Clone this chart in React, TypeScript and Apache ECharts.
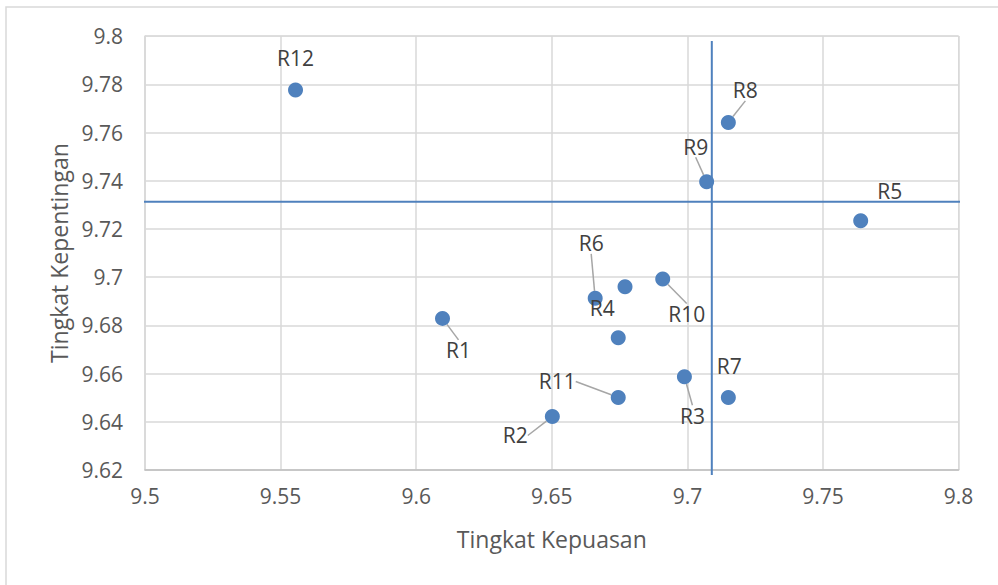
import React, { useEffect, useRef } from "react";
import * as echarts from "echarts";

// Data (Tingkat Kepuasan, Tingkat Kepentingan)
const pointNames = ["R1", "R2", "R3", "R4", "R5", "R6", "R7", "R8", "R9", "R10", "R11", "R12", ""];
const kepuasan = [9.6097, 9.6502, 9.6989, 9.6745, 9.7639, 9.666, 9.7151, 9.7151, 9.7071, 9.6909, 9.6745, 9.5555, 9.677];
const kepentingan = [9.6829, 9.6422, 9.6587, 9.6749, 9.7234, 9.6912, 9.6501, 9.7642, 9.7396, 9.6992, 9.6501, 9.7776, 9.696];

// Quadrant divider lines
const dividerX = 9.709;
const dividerY = 9.7313;
const dividerXSpan = [9.4976, 9.8007];
const dividerYSpan = [9.6179, 9.798];

// Axis ticks
const xTicks = { min: 9.5, max: 9.8, interval: 0.05 };
const yTicks = { min: 9.62, max: 9.8, interval: 0.02 };

// Label placement (pixel offsets from point centre) and leader visibility
const labelOffsets = [
  [16, 32], [-37, 19], [8, 39], [-16, -30], [29, -30], [-4, -55],
  [1, -31], [17, -32], [-11, -35], [24, 35], [-61, -16], [0, -32], [0, 0],
];
const showLeader = [true, true, true, false, false, true, false, true, true, true, true, false, false];

const FONT = "'Open Sans', 'Noto Sans', sans-serif";
const BLUE = "#4f81bd";

export default function App() {
  const ref = useRef<HTMLDivElement>(null);

  useEffect(() => {
    if (!ref.current) return;
    const chart = echarts.init(ref.current, undefined, { renderer: "svg" });

    const scatterData = kepuasan.map((x, i) => ({
      value: [x, kepentingan[i]],
      name: pointNames[i],
      label: { show: pointNames[i] !== "" },
      labelLine: { show: showLeader[i] },
    }));

    chart.setOption({
      animation: false,
      backgroundColor: "#ffffff",
      textStyle: { fontFamily: FONT },
      graphic: [
        {
          type: "rect",
          shape: { x: 6, y: 7, width: 1200, height: 800 },
          style: { fill: "none", stroke: "#d9d9d9", lineWidth: 1.5 },
          silent: true,
          z: -10,
        },
      ],
      grid: { left: 145, right: 39.4, top: 36.1, bottom: 115, show: true, borderColor: "#d9d9d9", borderWidth: 1 },
      xAxis: {
        type: "value",
        min: xTicks.min,
        max: xTicks.max,
        interval: xTicks.interval,
        name: "Tingkat Kepuasan",
        nameLocation: "middle",
        nameGap: 57,
        nameTextStyle: { color: "#595959", fontSize: 23, fontFamily: FONT },
        axisLine: { show: true, lineStyle: { color: "#bfbfbf", width: 1.5 } },
        axisTick: { show: false },
        axisLabel: {
          color: "#595959",
          fontSize: 21,
          fontFamily: FONT,
          margin: 15,
          formatter: (v: number) => String(parseFloat(v.toFixed(2))),
        },
        splitLine: { show: true, lineStyle: { color: "#d9d9d9", width: 1.5 } },
      },
      yAxis: {
        type: "value",
        min: yTicks.min,
        max: yTicks.max,
        interval: yTicks.interval,
        name: "Tingkat Kepentingan",
        nameLocation: "middle",
        nameGap: 73,
        nameRotate: 90,
        nameTextStyle: { color: "#595959", fontSize: 23, fontFamily: FONT },
        axisLine: { show: true, lineStyle: { color: "#d9d9d9", width: 1.5 } },
        axisTick: { show: false },
        axisLabel: {
          color: "#595959",
          fontSize: 21,
          fontFamily: FONT,
          margin: 22,
          formatter: (v: number) => String(parseFloat(v.toFixed(2))),
        },
        splitLine: { show: true, lineStyle: { color: "#d9d9d9", width: 1.5 } },
      },
      series: [
        {
          type: "line",
          data: [
            [dividerXSpan[0], dividerY],
            [dividerXSpan[1], dividerY],
          ],
          symbol: "none",
          clip: false,
          lineStyle: { color: BLUE, width: 2 },
          silent: true,
          z: 3,
        },
        {
          type: "line",
          data: [
            [dividerX, dividerYSpan[0]],
            [dividerX, dividerYSpan[1]],
          ],
          symbol: "none",
          clip: false,
          lineStyle: { color: BLUE, width: 2 },
          silent: true,
          z: 3,
        },
        {
          type: "scatter",
          data: scatterData,
          symbol: "circle",
          symbolSize: 15,
          itemStyle: { color: BLUE, opacity: 1 },
          z: 5,
          label: {
            show: true,
            position: "inside",
            formatter: (p: any) => p.name,
            color: "#404040",
            fontSize: 21,
            fontFamily: FONT,
          },
          labelLine: { show: true, lineStyle: { color: "#a6a6a6", width: 1.5 } },
          labelLayout: (params: any) => {
            const off = labelOffsets[params.dataIndex] || [0, 0];
            return { dx: off[0], dy: off[1], hideOverlap: false };
          },
        },
      ],
    });

    return () => chart.dispose();
  }, []);

  return (
    <div
      ref={ref}
      style={{ position: "fixed", left: 0, top: 0, width: 998, height: 585, background: "#fff" }}
    />
  );
}
